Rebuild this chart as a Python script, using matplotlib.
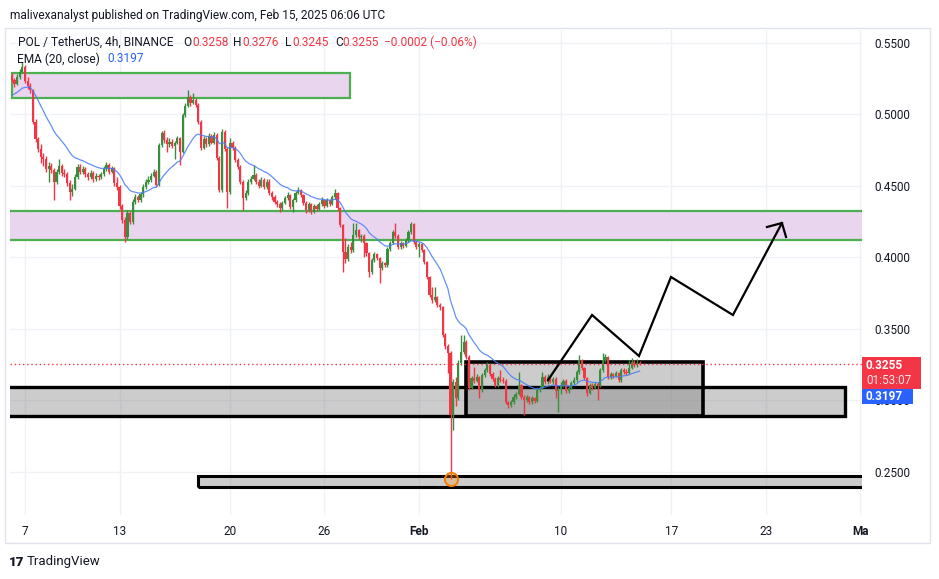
import numpy as np
import matplotlib
matplotlib.use("Agg")
import matplotlib.pyplot as plt
from matplotlib.patches import Rectangle

plt.rcParams['font.family'] = ['Roboto', 'DejaVu Sans']

# ---------------- data (POL/USDT 4h, first candle Jan 6 04:00 UTC) ----------------
first_open = 0.5270
close_by_day = [
    [0.5240, 0.5215, 0.5265, 0.5300, 0.5330],                       # Jan 6
    [0.5235, 0.5200, 0.5170, 0.4950, 0.4830, 0.4760],               # Jan 7
    [0.4700, 0.4690, 0.4620, 0.4640, 0.4610, 0.4530],
    [0.4600, 0.4640, 0.4590, 0.4580, 0.4520, 0.4460],
    [0.4480, 0.4560, 0.4630, 0.4600, 0.4620, 0.4580],
    [0.4560, 0.4590, 0.4550, 0.4570, 0.4560, 0.4580],
    [0.4620, 0.4645, 0.4600, 0.4625, 0.4520, 0.4490],
    [0.4360, 0.4260, 0.4140, 0.4310, 0.4245, 0.4390],               # Jan 13
    [0.4420, 0.4400, 0.4440, 0.4490, 0.4527, 0.4540],
    [0.4570, 0.4597, 0.4506, 0.4786, 0.4870, 0.4820],
    [0.4790, 0.4810, 0.4780, 0.4800, 0.4835, 0.4737],
    [0.4996, 0.5060, 0.5122, 0.5080, 0.5100, 0.5066],
    [0.4947, 0.4765, 0.4830, 0.4790, 0.4850, 0.4800],
    [0.4856, 0.4695, 0.4470, 0.4877, 0.4760, 0.4457],
    [0.4800, 0.4765, 0.4680, 0.4632, 0.4527, 0.4415],               # Jan 20
    [0.4450, 0.4527, 0.4550, 0.4576, 0.4530, 0.4500],
    [0.4540, 0.4490, 0.4530, 0.4450, 0.4420, 0.4387],
    [0.4370, 0.4345, 0.4380, 0.4415, 0.4436, 0.4350],
    [0.4400, 0.4450, 0.4470, 0.4436, 0.4380, 0.4330],
    [0.4370, 0.4320, 0.4360, 0.4340, 0.4370, 0.4400],
    [0.4360, 0.4400, 0.4375, 0.4420, 0.4450, 0.4345],               # Jan 26
    [0.4226, 0.4040, 0.3990, 0.4072, 0.4050, 0.4156],
    [0.4190, 0.4140, 0.4150, 0.4100, 0.4030, 0.3897],
    [0.3980, 0.4020, 0.3995, 0.3925, 0.3960, 0.3946],
    [0.4058, 0.4100, 0.4177, 0.4150, 0.4072, 0.4100],
    [0.4080, 0.4120, 0.4177, 0.4233, 0.4107, 0.4072],
    [0.4090, 0.4050, 0.3967, 0.3862, 0.3736, 0.3700],               # Feb 1
    [0.3720, 0.3666, 0.3650, 0.3456, 0.3380, 0.3330],
    [0.2896, 0.3127, 0.3013, 0.3260, 0.3337, 0.3410],
    [0.3302, 0.3085, 0.3155, 0.3135, 0.3162, 0.3071],
    [0.3176, 0.3211, 0.3246, 0.3183, 0.3150, 0.3106],
    [0.3155, 0.3140, 0.3134, 0.2987, 0.2966, 0.2985],
    [0.3022, 0.3043, 0.3106, 0.3022, 0.3000, 0.3022],
    [0.2987, 0.3015, 0.2995, 0.3071, 0.3085, 0.3162],
    [0.3127, 0.3162, 0.3130, 0.3150, 0.3064, 0.3080],
    [0.3106, 0.3134, 0.3064, 0.3085, 0.3120, 0.3141],               # Feb 10
    [0.3197, 0.3280, 0.3225, 0.3155, 0.3050, 0.3106],
    [0.3085, 0.3115, 0.3100, 0.3211, 0.3280, 0.3300],
    [0.3162, 0.3180, 0.3170, 0.3190, 0.3141, 0.3211],
    [0.3200, 0.3190, 0.3225, 0.3270, 0.3245, 0.3258],
    [0.3255],                                                       # Feb 15
]
high_by_day = [
    [0.5290, 0.5255, 0.5280, 0.5320, 0.5367],
    [0.5345, 0.5260, 0.5220, 0.5180, 0.4965, 0.4845],
    [0.4790, 0.4730, 0.4710, 0.4670, 0.4660, 0.4625],
    [0.4620, 0.4690, 0.4655, 0.4620, 0.4595, 0.4540],
    [0.4510, 0.4580, 0.4650, 0.4650, 0.4640, 0.4635],
    [0.4600, 0.4610, 0.4605, 0.4590, 0.4585, 0.4600],
    [0.4640, 0.4670, 0.4660, 0.4640, 0.4635, 0.4560],
    [0.4505, 0.4375, 0.4280, 0.4330, 0.4325, 0.4405],
    [0.4440, 0.4435, 0.4455, 0.4510, 0.4545, 0.4570],
    [0.4590, 0.4620, 0.4610, 0.4800, 0.4885, 0.4890],
    [0.4840, 0.4835, 0.4825, 0.4815, 0.4850, 0.4845],
    [0.5010, 0.5080, 0.5170, 0.5135, 0.5150, 0.5115],
    [0.5080, 0.4960, 0.4850, 0.4840, 0.4870, 0.4865],
    [0.4875, 0.4870, 0.4710, 0.4895, 0.4890, 0.4775],
    [0.4835, 0.4815, 0.4780, 0.4695, 0.4645, 0.4540],
    [0.4470, 0.4545, 0.4570, 0.4646, 0.4590, 0.4545],
    [0.4560, 0.4555, 0.4550, 0.4545, 0.4465, 0.4435],
    [0.4400, 0.4385, 0.4395, 0.4430, 0.4460, 0.4445],
    [0.4415, 0.4465, 0.4490, 0.4480, 0.4445, 0.4395],
    [0.4385, 0.4380, 0.4375, 0.4370, 0.4385, 0.4420],
    [0.4410, 0.4415, 0.4410, 0.4435, 0.4478, 0.4460],
    [0.4355, 0.4235, 0.4135, 0.4090, 0.4110, 0.4240],
    [0.4240, 0.4200, 0.4165, 0.4160, 0.4110, 0.4040],
    [0.3995, 0.4035, 0.4030, 0.4005, 0.3975, 0.3970],
    [0.4070, 0.4115, 0.4190, 0.4240, 0.4160, 0.4115],
    [0.4110, 0.4135, 0.4190, 0.4245, 0.4240, 0.4115],
    [0.4105, 0.4100, 0.4060, 0.3975, 0.3870, 0.3790],
    [0.3790, 0.3730, 0.3680, 0.3660, 0.3470, 0.3395],
    [0.3345, 0.3150, 0.3165, 0.3280, 0.3456, 0.3456],
    [0.3420, 0.3315, 0.3170, 0.3232, 0.3180, 0.3170],
    [0.3190, 0.3225, 0.3270, 0.3255, 0.3195, 0.3160],
    [0.3170, 0.3211, 0.3160, 0.3145, 0.2995, 0.3000],
    [0.3040, 0.3060, 0.3197, 0.3115, 0.3035, 0.3035],
    [0.3030, 0.3030, 0.3025, 0.3085, 0.3100, 0.3197],
    [0.3175, 0.3180, 0.3170, 0.3165, 0.3160, 0.3095],
    [0.3125, 0.3150, 0.3145, 0.3100, 0.3135, 0.3160],
    [0.3210, 0.3316, 0.3290, 0.3235, 0.3165, 0.3120],
    [0.3120, 0.3130, 0.3125, 0.3225, 0.3330, 0.3320],
    [0.3310, 0.3195, 0.3190, 0.3205, 0.3200, 0.3225],
    [0.3225, 0.3215, 0.3280, 0.3295, 0.3280, 0.3290],
    [0.3276],
]
low_by_day = [
    [0.5225, 0.5195, 0.5205, 0.5250, 0.5290],
    [0.5220, 0.5180, 0.5150, 0.4930, 0.4810, 0.4740],
    [0.4660, 0.4640, 0.4600, 0.4530, 0.4590, 0.4400],
    [0.4510, 0.4580, 0.4570, 0.4560, 0.4500, 0.4400],
    [0.4430, 0.4470, 0.4545, 0.4585, 0.4580, 0.4560],
    [0.4540, 0.4545, 0.4530, 0.4535, 0.4540, 0.4545],
    [0.4570, 0.4605, 0.4585, 0.4590, 0.4500, 0.4470],
    [0.4340, 0.4240, 0.4105, 0.4125, 0.4230, 0.4235],
    [0.4375, 0.4385, 0.4390, 0.4425, 0.4480, 0.4510],
    [0.4525, 0.4560, 0.4490, 0.4500, 0.4770, 0.4800],
    [0.4740, 0.4775, 0.4765, 0.4690, 0.4790, 0.4646],
    [0.4730, 0.4985, 0.5050, 0.5060, 0.5070, 0.5050],
    [0.4930, 0.4750, 0.4755, 0.4770, 0.4780, 0.4790],
    [0.4790, 0.4680, 0.4455, 0.4460, 0.4745, 0.4345],
    [0.4445, 0.4750, 0.4665, 0.4615, 0.4510, 0.4330],
    [0.4400, 0.4435, 0.4510, 0.4540, 0.4515, 0.4485],
    [0.4490, 0.4475, 0.4480, 0.4435, 0.4400, 0.4370],
    [0.4350, 0.4317, 0.4330, 0.4370, 0.4400, 0.4335],
    [0.4320, 0.4390, 0.4440, 0.4420, 0.4365, 0.4310],
    [0.4320, 0.4305, 0.4310, 0.4325, 0.4330, 0.4360],
    [0.4345, 0.4350, 0.4360, 0.4365, 0.4410, 0.4330],
    [0.4210, 0.3897, 0.3960, 0.3975, 0.4030, 0.4040],
    [0.4145, 0.4125, 0.4110, 0.4002, 0.4010, 0.3862],
    [0.3885, 0.3965, 0.3980, 0.3820, 0.3910, 0.3930],
    [0.3935, 0.4045, 0.4090, 0.4135, 0.4060, 0.4060],
    [0.4065, 0.4070, 0.4110, 0.4165, 0.4095, 0.4055],
    [0.4000, 0.4035, 0.3950, 0.3845, 0.3720, 0.3680],
    [0.3685, 0.3650, 0.3630, 0.3440, 0.3360, 0.3190],
    [0.2445, 0.2790, 0.2960, 0.3000, 0.3245, 0.3320],
    [0.3285, 0.3070, 0.3075, 0.3120, 0.3125, 0.3015],
    [0.3060, 0.3165, 0.3200, 0.3170, 0.3135, 0.3090],
    [0.3095, 0.3125, 0.3120, 0.2975, 0.2945, 0.2955],
    [0.2975, 0.3010, 0.3035, 0.3010, 0.2896, 0.2990],
    [0.2975, 0.2975, 0.2980, 0.2985, 0.3060, 0.3075],
    [0.3115, 0.3115, 0.3120, 0.3110, 0.3015, 0.2917],
    [0.3040, 0.3095, 0.3050, 0.3050, 0.3075, 0.3110],
    [0.3130, 0.3185, 0.3210, 0.3140, 0.3030, 0.3040],
    [0.3070, 0.3075, 0.3000, 0.3090, 0.3200, 0.3265],
    [0.3150, 0.3150, 0.3155, 0.3160, 0.3130, 0.3130],
    [0.3185, 0.3175, 0.3180, 0.3215, 0.3235, 0.3235],
    [0.3245],
]
ema_seed = 0.5125

x_tick_days = [0, 6, 13, 19, 25, 34, 41, 47, 53]        # days after Jan 7
x_tick_labels = ['7', '13', '20', '26', 'Feb', '10', '17', '23', 'Ma']
y_ticks = [0.25, 0.30, 0.35, 0.40, 0.45, 0.50, 0.55]

last_price = 0.3255
ema_value_label = '0.3197'
countdown = '01:53:07'

# zones (days after Jan 7, price)
top_zone = (-0.83, 20.62, 0.5115, 0.5290)
mid_zone = (-3.0, 60.0, 0.4121, 0.4324)
big_box = (-3.0, 52.03, 0.2889, 0.3092)
range_box = (27.98, 43.02, 0.2889, 0.3265)
bottom_box = (10.98, 60.0, 0.2392, 0.2469)
proj_x = [33.19, 35.98, 38.96, 40.99, 44.92, 48.03]
proj_y = [0.3141, 0.3596, 0.3309, 0.3862, 0.3596, 0.4240]
head_x = [47.08, 48.03, 48.29]
head_y = [0.4212, 0.4240, 0.4142]

# ---------------- derived ----------------
close = np.array(sum(close_by_day, []))
high = np.array(sum(high_by_day, []))
low = np.array(sum(low_by_day, []))
n = len(close)
opn = np.concatenate([[first_open], close[:-1]])
t = (np.arange(n) - 5) / 6.0   # first candle Jan 6 04:00

alpha = 2.0 / 21.0
ema = []
e = ema_seed
for c in close:
    e = e + alpha * (c - e)
    ema.append(e)
ema = np.array(ema)

# ---------------- figure ----------------
W, H = 939, 579
fig = plt.figure(figsize=(W / 100, H / 100), dpi=100)
fig.patch.set_facecolor('white')

def fx(px):
    return px / W

def fy(py):
    return 1 - py / H

ax = fig.add_axes([fx(10), fy(515), (862 - 10) / W, (515 - 30) / H])
ax.set_facecolor('white')
ax.set_xlim(-0.952, 53.11)
ax.set_ylim(0.21961, 0.55910)
for s in ax.spines.values():
    s.set_visible(False)

ax.set_xticks(x_tick_days)
ax.set_xticklabels(x_tick_labels)
for lbl in ax.get_xticklabels():
    if lbl.get_text() in ('Feb', 'Ma'):
        lbl.set_fontweight('bold')
ax.set_yticks(y_ticks)
ax.set_yticklabels([f'{v:.4f}' for v in y_ticks])
ax.yaxis.tick_right()
ax.tick_params(axis='x', length=0, pad=7, labelsize=8.5, labelcolor='#131722')
ax.tick_params(axis='y', length=0, pad=9, labelsize=8.5, labelcolor='#131722')
ax.grid(True, color='#eff1f5', lw=1, zorder=0)
ax.set_axisbelow(True)

GREEN = '#388e3c'
RED = '#f23645'
PINK = '#ead5ef'
ZGREEN = '#4caf50'

# zones
def zone(z, fc, ec, lw, alpha=1.0, zo=1):
    x0, x1, y0, y1 = z
    ax.add_patch(Rectangle((x0, y0), x1 - x0, y1 - y0, facecolor=fc, edgecolor='none',
                           alpha=alpha, zorder=zo))
    ax.add_patch(Rectangle((x0, y0), x1 - x0, y1 - y0, facecolor='none', edgecolor=ec,
                           lw=lw, zorder=zo + 0.5))

zone(top_zone, PINK, ZGREEN, 1.6)
zone(mid_zone, PINK, ZGREEN, 1.6)
zone(big_box, '#808080', 'black', 2.4, alpha=0.4)
zone(range_box, '#808080', 'black', 2.6, alpha=0.4, zo=1.2)
zone(bottom_box, '#808080', 'black', 2.2, alpha=0.4)

# candles
up = close >= opn
cols = np.where(up, GREEN, RED)
ax.vlines(t, low, high, colors=cols, lw=1.0, zorder=3)
body_lo = np.minimum(opn, close)
body_h = np.maximum(np.abs(close - opn), 0.0005)
ax.bar(t, body_h, bottom=body_lo, width=0.82 / 6, color=cols, linewidth=0, zorder=4)

# EMA
ax.plot(t, ema, color='#4a7cf6', lw=0.9, alpha=0.85, zorder=5)

# last price line
ax.axhline(last_price, color=RED, lw=1.0, ls=(0, (1, 2)), zorder=5)

# projection zig-zag
ax.plot(proj_x, proj_y, color='black', lw=1.6, zorder=6, solid_joinstyle='miter')
ax.plot(head_x, head_y, color='black', lw=1.6, zorder=6)

# circle at the wick low
i_min = int(np.argmin(low))
ax.scatter([t[i_min]], [low[i_min]], s=90, facecolor=(1.0, 0.6, 0.1, 0.3),
           edgecolor='#f57c00', lw=1.4, zorder=7)

# ---------------- overlays in pixel coordinates ----------------
# pane border
fig.patches.append(Rectangle((fx(5), fy(543)), (930 - 5) / W, (543 - 28) / H,
                             transform=fig.transFigure, facecolor='none',
                             edgecolor='#e0e3eb', lw=1))

# price labels
fig.patches.append(Rectangle((fx(862), fy(389)), 59 / W, 32 / H, transform=fig.transFigure,
                             facecolor=RED, edgecolor='none', zorder=5))
fig.patches.append(Rectangle((fx(862), fy(404)), 51 / W, 15 / H, transform=fig.transFigure,
                             facecolor='#2962ff', edgecolor='none', zorder=5))
fig.text(fx(866), fy(365.5), f'{last_price:.4f}', color='white', fontsize=8.5,
         fontweight='bold', va='center', ha='left', zorder=6)
fig.text(fx(866), fy(380.5), countdown, color='#ffe3e6', fontsize=8.5,
         va='center', ha='left', zorder=6)
fig.text(fx(866), fy(396.5), ema_value_label, color='white', fontsize=8.5,
         fontweight='bold', va='center', ha='left', zorder=6)

# header
TXT = '#131722'
fig.text(fx(10), fy(15), 'malivexanalyst published on TradingView.com, Feb 15, 2025 06:06 UTC',
         color=TXT, fontsize=8.6, va='center', ha='left')

# legend line 1
ohlc = [('O', 183, '0.3258', 192), ('H', 233, '0.3276', 242),
        ('L', 285, '0.3245', 292), ('C', 335, '0.3255', 342)]
fig.text(fx(18), fy(42), 'POL / TetherUS, 4h, BINANCE', color=TXT, fontsize=8.6,
         va='center', ha='left')
for k, kx, v, vx in ohlc:
    fig.text(fx(kx), fy(42), k, color=TXT, fontsize=8.6, va='center', ha='left')
    fig.text(fx(vx), fy(42), v, color=RED, fontsize=8.6, va='center', ha='left')
fig.text(fx(384), fy(42), '\u22120.0002 (\u22120.06%)', color=RED, fontsize=8.6,
         va='center', ha='left')
# legend line 2
fig.text(fx(17), fy(59), 'EMA (20, close)', color=TXT, fontsize=8.6, va='center', ha='left')
fig.text(fx(107), fy(59), ema_value_label, color='#2962ff', fontsize=8.6, va='center', ha='left')

# footer logo
fig.text(fx(9), fy(562), '17', color=TXT, fontsize=9.5, fontweight='black',
         va='center', ha='left')
fig.text(fx(27), fy(562), 'TradingView', color=TXT, fontsize=9.5, va='center', ha='left')

fig.savefig('out.png', dpi=100, facecolor='white')
